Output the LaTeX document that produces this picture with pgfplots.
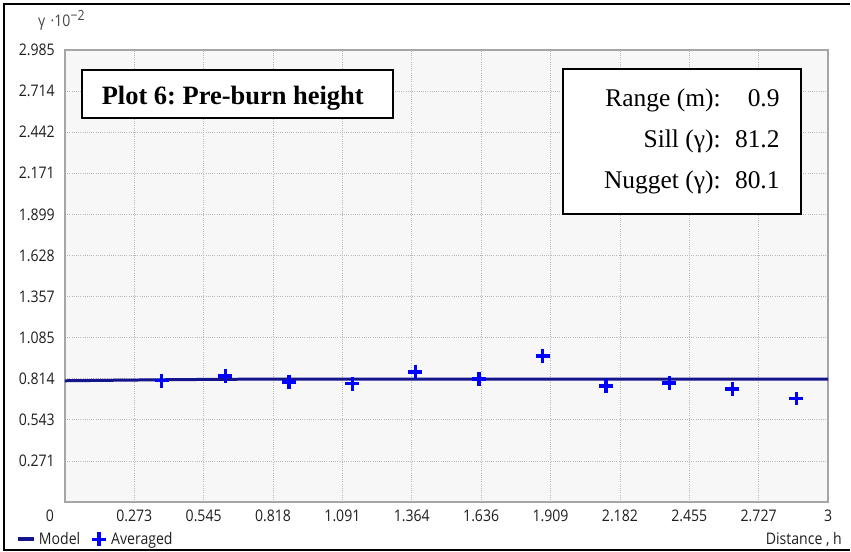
\documentclass[border=0pt]{standalone}
\usepackage{pgfplots}
\pgfplotsset{compat=1.18}
\usepackage{fontspec}
\setmainfont{Liberation Serif}
\setsansfont{Open Sans}[FakeStretch=0.88]
\frenchspacing

\definecolor{modelblue}{RGB}{20,20,140}
\definecolor{avgblue}{RGB}{0,0,255}
\definecolor{plotbg}{RGB}{247,247,247}
\definecolor{gridgray}{RGB}{185,185,185}
\definecolor{framegray}{RGB}{166,166,166}
\definecolor{ticktext}{RGB}{30,30,30}

\begin{document}
\begin{tikzpicture}
\begin{axis}[
  name=ax,
  scale only axis, width=764pt, height=452.7pt,
  xmin=0, xmax=3, ymin=0, ymax=2.985,
  axis background/.style={fill=plotbg},
  axis line style={framegray, line width=1.5pt},
  major tick length=0pt,
  grid=major,
  major grid style={gridgray, line width=0.8pt, dash pattern=on 1pt off 1.2pt},
  xtick={0,0.27273,0.54545,0.81818,1.09091,1.36364,1.63636,1.90909,2.18182,2.45455,2.72727,3},
  xticklabels={{\llap{0\kern 11pt}},0.273,0.545,0.818,1.091,1.364,1.636,1.909,2.182,2.455,2.727,3},
  ytick={0.27136,0.54273,0.81409,1.08545,1.35682,1.62818,1.89955,2.17091,2.44227,2.71364,2.985},
  yticklabels={0.271,0.543,0.814,1.085,1.357,1.628,1.899,2.171,2.442,2.714,2.985},
  /pgf/number format/assume math mode=true,
  ticklabel style={font=\sffamily\fontsize{16}{18}\selectfont, text=ticktext, inner sep=0pt},
  xticklabel style={yshift=-8pt},
  yticklabel style={xshift=-10pt},
  legend style={at={(axis description cs:-0.065,-0.0824)}, anchor=west,
    draw=none, fill=none, inner sep=0pt,
    nodes={inner sep=2.5pt},
    font=\sffamily\fontsize{16}{18}\selectfont, text=ticktext,
    legend columns=2,
    /tikz/every even column/.append style={column sep=9pt}},
  legend cell align=left,
  clip=false,
]
% spherical model: nugget 0.801, sill 0.812, range 0.9
\addplot[modelblue, line width=3pt, line join=round,
  legend image code/.code={\draw[modelblue, line width=4pt] (0pt,0pt) -- (17pt,0pt);}]
  coordinates {
  (0,0.80100) (0.1,0.80283) (0.2,0.80461) (0.3,0.80630) (0.4,0.80785)
  (0.5,0.80922) (0.6,0.81037) (0.7,0.81125) (0.8,0.81180) (0.9,0.81200)
  (3,0.81200)};
\addlegendentry{Model}

% averaged experimental semivariogram
\addplot[only marks, mark=+, mark size=7pt, avgblue,
  mark options={line width=3.6pt}]
  coordinates {
  (0.380,0.802) (0.631,0.831) (0.880,0.794) (1.130,0.782) (1.378,0.860)
  (1.627,0.813) (1.878,0.963) (2.127,0.765) (2.376,0.787) (2.624,0.747)
  (2.876,0.684)};
\addlegendentry{\hspace{3pt}Averaged}
\end{axis}

% page layout in points, origin at the lower left corner of the page
\begin{scope}[shift={(ax.south west)}, x=1pt, y=1pt, shift={(-65,-49.3)}]
\path (0,0) rectangle (851,552);
% outer frame (left, top, bottom)
\draw[line width=2pt,black] (851,547.5) -- (4.5,547.5) -- (4.5,1.5) -- (851,1.5);

% axis captions
\node[anchor=base west, inner sep=0pt, text={rgb,255:red,70;green,70;blue,70},
  font=\sffamily\fontsize{16}{18}\selectfont] at (38,525)
  {γ\,\,·10\raisebox{6.5pt}{\fontsize{14}{15}\selectfont −2}};
\node[anchor=east, inner sep=0pt, text=ticktext,
  font=\sffamily\fontsize{16}{18}\selectfont] at (843,12) {Distance , h};

% title box
\draw[line width=2pt, fill=white] (81.7,433.7) rectangle (393,482);
\node[anchor=base west, inner sep=0pt, font=\bfseries\fontsize{26.5}{30}\selectfont]
  at (101.7,447.7) {Plot 6: Pre-burn height};

% parameter box
\draw[line width=2pt, fill=white] (563.3,338) rectangle (801.7,482.7);
\begin{scope}[every node/.style={anchor=base east, inner sep=0pt,
    font=\fontsize{25.5}{28}\selectfont}]
  \node at (721.7,445.5) {Range (m):};
  \node at (780.7,445.5) {0.9};
  \node at (721.7,404.5) {Sill (γ):};
  \node at (780.7,404.5) {81.2};
  \node at (721.7,363) {Nugget (γ):};
  \node at (780.7,363) {80.1};
\end{scope}
\end{scope}
\end{tikzpicture}
\end{document}
